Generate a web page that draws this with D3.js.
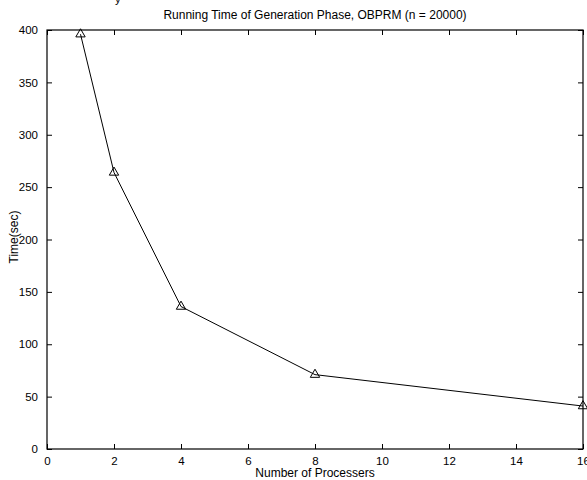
<!DOCTYPE html>
<html>
<head>
<meta charset="utf-8">
<script src="https://cdn.jsdelivr.net/npm/d3@7"></script>
<style>
  body { margin: 0; background: #fff; }
  svg { display: block; font-family: "Liberation Sans", Arial, sans-serif; }
</style>
</head>
<body>
<div id="chart"></div>
<script>
// data
const processors = [1, 2, 4, 8, 16];
const times = [396, 264, 136, 71, 41];
const xTicks = [0, 2, 4, 6, 8, 10, 12, 14, 16];
const yTicks = [0, 50, 100, 150, 200, 250, 300, 350, 400];

const width = 587;
const height = 480;
const margin = { top: 30, right: 4, bottom: 31, left: 47 };

const svg = d3
  .select("#chart")
  .append("svg")
  .attr("width", width)
  .attr("height", height);

const x = d3.scaleLinear().domain([0, 16]).range([margin.left, width - margin.right]);
const y = d3.scaleLinear().domain([0, 400]).range([height - margin.bottom, margin.top]);

const tickLen = 5;

// box
svg
  .append("rect")
  .attr("x", x(0))
  .attr("y", y(400))
  .attr("width", x(16) - x(0))
  .attr("height", y(0) - y(400))
  .attr("fill", "none")
  .attr("stroke", "#000")
  .attr("stroke-width", 1.2);

// axes with inward ticks
const bottomAxis = d3.axisBottom(x).tickValues(xTicks).tickSizeInner(-tickLen).tickSizeOuter(0).tickPadding(8);
const topAxis = d3.axisTop(x).tickValues(xTicks).tickSizeInner(-tickLen).tickSizeOuter(0).tickFormat("");
const leftAxis = d3.axisLeft(y).tickValues(yTicks).tickSizeInner(-tickLen).tickSizeOuter(0).tickPadding(9);
const rightAxis = d3.axisRight(y).tickValues(yTicks).tickSizeInner(-tickLen).tickSizeOuter(0).tickFormat("");

function styleAxis(g) {
  g.select(".domain").remove();
  g.selectAll("line").attr("stroke", "#000");
  g.selectAll("text")
    .attr("fill", "#000")
    .style("font-size", "11.5px")
    .style("font-family", '"Liberation Sans", Arial, sans-serif');
}

svg.append("g").attr("transform", `translate(0,${y(0)})`).call(bottomAxis).call(styleAxis);
svg.append("g").attr("transform", `translate(0,${y(400)})`).call(topAxis).call(styleAxis);
svg.append("g").attr("transform", `translate(${x(0)},0)`).call(leftAxis).call(styleAxis);
svg.append("g").attr("transform", `translate(${x(16)},0)`).call(rightAxis).call(styleAxis);

// line
const pts = processors.map((p, i) => [p, times[i]]);
const line = d3.line().x((d) => x(d[0])).y((d) => y(d[1]));

svg
  .append("path")
  .datum(pts)
  .attr("d", line)
  .attr("fill", "none")
  .attr("stroke", "#000")
  .attr("stroke-width", 1);

// open triangle markers
const tri = d3.symbol().type(d3.symbolTriangle).size(38);
svg
  .selectAll(".mark")
  .data(pts)
  .enter()
  .append("path")
  .attr("class", "mark")
  .attr("d", tri)
  .attr("transform", (d) => `translate(${x(d[0])},${y(d[1])})`)
  .attr("fill", "none")
  .attr("stroke", "#000")
  .attr("stroke-width", 1);

// titles
svg
  .append("text")
  .attr("x", (x(0) + x(16)) / 2)
  .attr("y", 19)
  .attr("text-anchor", "middle")
  .style("font-size", "12px")
  .text("Running Time of Generation Phase, OBPRM (n = 20000)");

svg
  .append("text")
  .attr("x", (x(0) + x(16)) / 2)
  .attr("y", 477)
  .attr("text-anchor", "middle")
  .style("font-size", "12px")
  .text("Number of Processers");

svg
  .append("text")
  .attr("transform", `translate(18,237) rotate(-90)`)
  .attr("text-anchor", "middle")
  .style("font-size", "12px")
  .text("Time(sec)");

// clipped leftover glyph at the very top
svg
  .append("text")
  .attr("x", 115)
  .attr("y", 3)
  .style("font-size", "11.5px")
  .text("y");
</script>
</body>
</html>
